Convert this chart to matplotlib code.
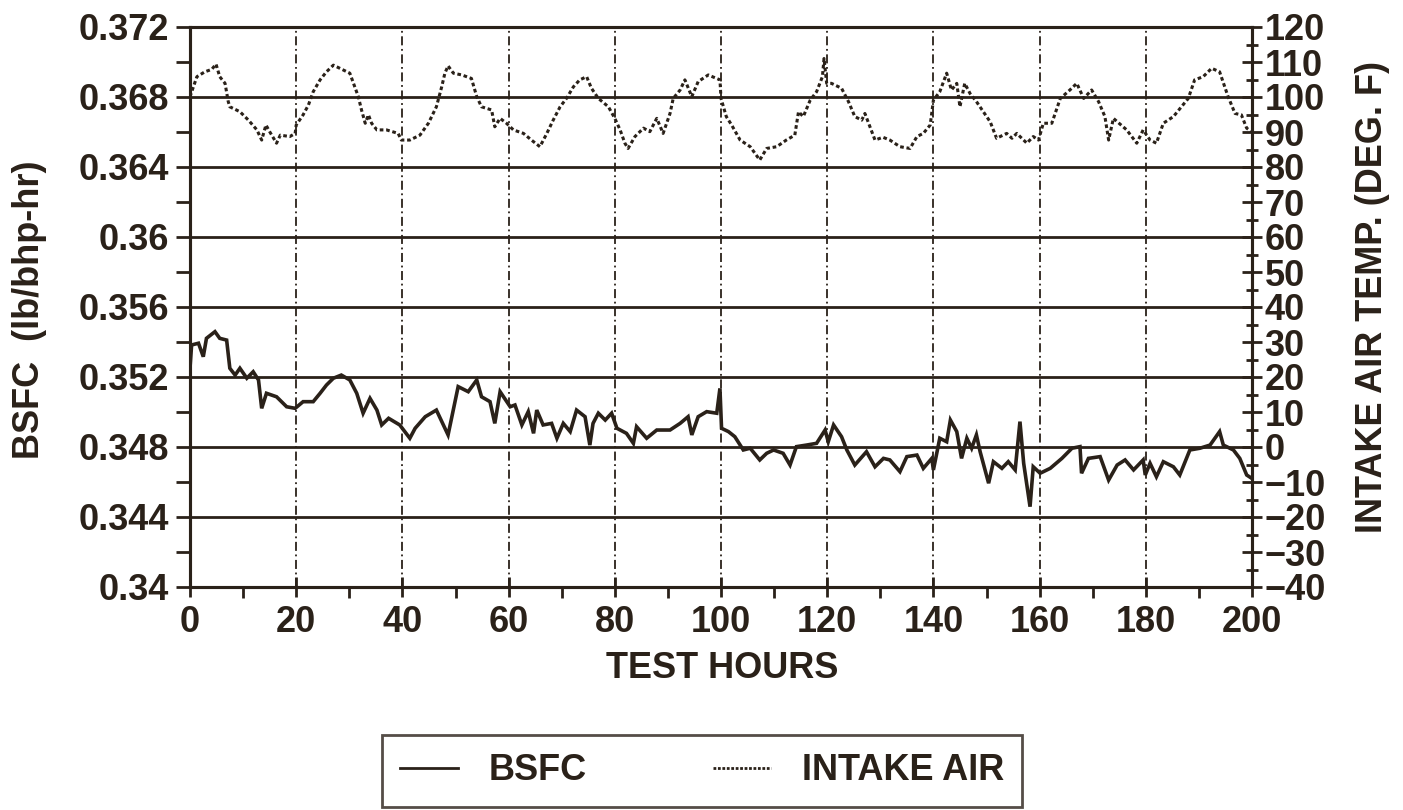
import numpy as np
import matplotlib
matplotlib.use("Agg")
import matplotlib.pyplot as plt
from matplotlib.ticker import MultipleLocator, FixedFormatter, FixedLocator

plt.rcParams['font.family'] = ['Liberation Sans', 'DejaVu Sans']
plt.rcParams['font.weight'] = 'bold'

ink = '#2a2119'

# BSFC (lb/bhp-hr) vs test hours
bsfc_h = [0, 0.3, 1.6, 2.5, 3.1, 4.7, 5.6, 6.9, 7.5, 8.5, 9.4, 10.7, 11.9, 12.9, 13.5, 14.4,
          16.3, 18.2, 19.8, 21.3, 23.2, 24.5, 25.7, 27, 28.5, 30.1, 31.4, 32.6, 33.9, 35.2,
          36.1, 37.4, 39.5, 41.4, 42.4, 44.3, 46.4, 48.6, 50.5, 52.4, 54, 54.9, 56.5, 57.4,
          58.4, 60.3, 61.2, 62.5, 63.7, 64.7, 65.3, 66.5, 68.1, 69.1, 70.3, 71.6, 72.8, 74.4,
          75.3, 75.9, 76.9, 78.2, 79.4, 80.4, 82.2, 83.5, 84.1, 86, 87.9, 90.4, 92.3, 93.8,
          94.5, 95.7, 97.3, 99.2, 99.8, 100.1, 101.4, 102.6, 104.2, 105.5, 107.3, 108.6,
          109.9, 111.7, 113, 114.2, 116.1, 118, 119.6, 120.2, 121.2, 122.7, 123.7, 125.2,
          127.4, 129, 130.6, 131.8, 133.7, 135, 136.9, 138.1, 139.7, 140, 141.2, 142.5,
          143.2, 144.4, 145.3, 146.3, 147.2, 148.1, 148.8, 150.4, 151.3, 152.9, 154.1,
          155.4, 156.3, 157, 158.2, 158.8, 160.1, 162, 164.2, 166.1, 167.6, 167.9, 169.2,
          171.4, 173, 174.6, 176.1, 177.7, 179.5, 179.9, 180.8, 182, 183.3, 185.2, 186.4,
          188.3, 190.2, 192.1, 193.9, 194.6, 196.5, 197.7, 199, 200]
bsfc = [0.3525, 0.35383, 0.35393, 0.35316, 0.35421, 0.35459, 0.35421, 0.35411, 0.3525,
        0.35211, 0.3525, 0.35193, 0.3523, 0.35183, 0.35021, 0.35107, 0.35087, 0.3503,
        0.35021, 0.35059, 0.35059, 0.35107, 0.35154, 0.35193, 0.35211, 0.35183, 0.35107,
        0.34993, 0.35078, 0.35011, 0.34926, 0.34964, 0.34926, 0.3485, 0.34907, 0.34973,
        0.35011, 0.34869, 0.35145, 0.35116, 0.35183, 0.35087, 0.35059, 0.34935, 0.35116,
        0.3503, 0.3504, 0.34926, 0.35002, 0.34878, 0.35011, 0.34926, 0.34935, 0.3485,
        0.34935, 0.34888, 0.35011, 0.34973, 0.34811, 0.34935, 0.34993, 0.34954, 0.34993,
        0.34907, 0.34878, 0.34821, 0.34916, 0.3485, 0.34897, 0.34897, 0.34935, 0.34973,
        0.34869, 0.34973, 0.35002, 0.34993, 0.35135, 0.34907, 0.34888, 0.34859, 0.34783,
        0.34793, 0.34726, 0.34764, 0.34783, 0.34764, 0.34697, 0.34802, 0.34811, 0.34821,
        0.34897, 0.3483, 0.34926, 0.34859, 0.34783, 0.34697, 0.34773, 0.34687, 0.34735,
        0.34726, 0.34659, 0.34745, 0.34754, 0.34678, 0.34735, 0.34669, 0.3485, 0.3483,
        0.34954, 0.34888, 0.34735, 0.3485, 0.34793, 0.34869, 0.34773, 0.34593, 0.34716,
        0.34678, 0.34716, 0.34669, 0.34945, 0.34707, 0.34459, 0.34687, 0.3465, 0.34678,
        0.34735, 0.34793, 0.34802, 0.3465, 0.34735, 0.34745, 0.34611, 0.34697, 0.34726,
        0.34669, 0.34726, 0.3464, 0.34707, 0.3463, 0.34716, 0.34687, 0.3464, 0.34783,
        0.34793, 0.34811, 0.34888, 0.34811, 0.34783, 0.34735, 0.3464, 0.3462]

# intake air temperature (deg F) vs test hours
air_h = [0, 1.3, 2.8, 4.1, 4.9, 5.6, 6.6, 7.2, 7.5, 9.4, 11, 12.6, 13.5, 14.3, 15, 16.3, 17,
         18.8, 19.8, 20, 21.3, 22.3, 23.2, 24.5, 25.7, 27, 28.2, 30.1, 30.8, 31.7, 32.3, 33,
         33.6, 34.2, 35.2, 37, 39.2, 39.8, 41.4, 43.3, 44.9, 46.4, 47.4, 48, 48.6, 49.6, 51.2,
         53, 54, 54.9, 56.8, 57.4, 58.4, 59.6, 60.9, 62.8, 64.3, 65.9, 67.2, 68.4, 69.7,
         70.9, 72.2, 73.4, 74.7, 75.6, 76.9, 78.8, 80, 81, 81.9, 82.5, 83.8, 85.4, 86.6,
         87.9, 89.1, 90.4, 91, 92.3, 93.2, 94.5, 95.7, 97.6, 99.8, 100, 101, 102, 103.6,
         105.5, 107.3, 108.6, 110.5, 112.3, 113.9, 114.6, 115.5, 116.8, 118, 119.1, 119.4,
         119.9, 120.8, 122.7, 124, 125.2, 126.5, 127.1, 129, 130.5, 131.8, 133.7, 135.6,
         136.9, 138.1, 139.4, 140, 141.2, 142.5, 143.4, 144.4, 145, 145.9, 146.9, 148.1,
         149.4, 150.7, 151.9, 153.8, 154.8, 155.7, 157.6, 158.8, 159.8, 160.7, 162.3, 163.9,
         165.7, 167, 168.3, 169.8, 171.1, 172.3, 173, 173.9, 176.4, 178.3, 179.5, 180.8,
         182, 183.3, 185.2, 186.7, 188, 189.2, 190.8, 192.4, 193.9, 195.5, 196.8, 198, 199,
         200]
air_t = [100.1, 105.8, 107.2, 107.9, 109.4, 105.8, 103.9, 98.7, 97.2, 95.8, 93.4, 90.6, 87.7,
         92, 90.1, 86.8, 89.1, 88.7, 89.6, 92, 94.9, 97.7, 101.5, 104.9, 107.2, 109.1, 108.2,
         106.8, 103.9, 100.1, 96.3, 92.5, 94.9, 92.5, 90.6, 90.6, 89.6, 87.7, 87.7, 89.1,
         92.5, 97.2, 102.9, 106.8, 108.9, 106.8, 106.3, 105.3, 100.1, 97.2, 96.3, 91.5,
         93.9, 92.5, 90.6, 89.6, 87.7, 85.8, 89.6, 93.4, 97.2, 99.6, 102.9, 104.9, 105.8,
         102.5, 99.6, 97.2, 93.9, 90.6, 86.8, 85.3, 88.7, 91.1, 90.1, 93.9, 89.6, 95.3,
         99.6, 102, 104.9, 100.1, 104.4, 106.3, 104.9, 99.6, 94.4, 92, 87.7, 85.8, 82, 85.3,
         85.8, 87.7, 89.1, 95.8, 94.4, 99.1, 101.5, 105.8, 111, 103.9, 103.9, 102.5, 98.7,
         94.4, 93.4, 95.3, 87.7, 88.5, 87.7, 85.8, 85.3, 88.7, 89.6, 92, 99.1, 101.5, 106.8,
         102, 103.9, 97.2, 103.9, 101, 98.7, 95.8, 92.9, 88.2, 89.6, 88.2, 89.6, 86.8, 88.7,
         87.7, 92.5, 92.5, 99.6, 102, 103.9, 99.6, 102, 98.7, 94.4, 87.7, 93.9, 90.6, 86.8,
         90.6, 87.7, 86.8, 92.5, 94.4, 97.2, 99.6, 104.9, 105.8, 108.2, 107.2, 100.1, 95.3,
         94.9, 91.1, 90]

left_ticks = [0.34, 0.344, 0.348, 0.352, 0.356, 0.36, 0.364, 0.368, 0.372]
left_labels = ['0.34', '0.344', '0.348', '0.352', '0.356', '0.36', '0.364', '0.368', '0.372']

fig = plt.figure(figsize=(14.03, 8.10), dpi=100)
ax = fig.add_axes([190/1403, 1 - 587/810, (1252-190)/1403, (587-27)/810])
ax2 = ax.twinx()

fs = 26

ax.plot(bsfc_h, bsfc, color=ink, lw=2.6, solid_joinstyle='miter')
ax2.plot(air_h, air_t, color=ink, lw=2.2, linestyle=(0, (1.2, 0.9)))

ax.set_xlim(0, 200)
ax.set_ylim(0.34, 0.372)
ax2.set_ylim(-40, 120)

ax.yaxis.set_major_locator(FixedLocator(left_ticks))
ax.yaxis.set_major_formatter(FixedFormatter(left_labels))
ax.yaxis.set_minor_locator(MultipleLocator(0.002))
ax.xaxis.set_major_locator(MultipleLocator(20))
ax.xaxis.set_minor_locator(MultipleLocator(10))
ax2.yaxis.set_major_locator(MultipleLocator(10))
ax2.yaxis.set_minor_locator(MultipleLocator(5))

ax.grid(axis='y', color=ink, lw=2.0, linestyle='-')
ax.grid(axis='x', color=ink, lw=1.3, linestyle=(0, (5, 2, 1, 2)))

ax.tick_params(axis='y', which='major', direction='out', length=10, width=2, color=ink,
               labelsize=fs, labelcolor=ink, pad=5)
ax.tick_params(axis='y', which='minor', direction='out', length=10, width=2, color=ink)
ax.tick_params(axis='x', which='major', direction='inout', length=14, width=2, color=ink,
               labelsize=fs, labelcolor=ink, pad=6)
ax.tick_params(axis='x', which='minor', direction='out', length=8, width=2, color=ink)
ax2.tick_params(axis='y', which='major', direction='inout', length=14, width=2, color=ink,
                labelsize=fs, labelcolor=ink, pad=2)
ax2.tick_params(axis='y', which='minor', direction='inout', length=8, width=2, color=ink)

for a in (ax, ax2):
    for s in a.spines.values():
        s.set_color(ink)
        s.set_linewidth(2.2)

fig.text(30/1403, 1 - 310/810, 'BSFC  (lb/bhp-hr)', rotation=90, ha='center', va='center',
         fontsize=fs, color=ink)
fig.text(1372/1403, 1 - 297/810, 'INTAKE AIR TEMP. (DEG. F)', rotation=90, ha='center',
         va='center', fontsize=fs, color=ink)
fig.text(722/1403, 1 - 668/810, 'TEST HOURS', ha='center', va='center', fontsize=fs, color=ink)

h1, = ax.plot([], [], color=ink, lw=2.0)
h2, = ax.plot([], [], color=ink, lw=2.0, linestyle=(0, (1.0, 0.6)))
leg = fig.legend([h1, h2], ['BSFC', 'INTAKE AIR'], loc='center',
                 bbox_to_anchor=(702/1403, 1 - 771/810), ncol=2, fontsize=fs,
                 frameon=True, fancybox=False, edgecolor=ink, handlelength=1.6,
                 handletextpad=0.85, columnspacing=3.5, borderpad=0.5, borderaxespad=0)
leg.get_frame().set_linewidth(2.0)
for t in leg.get_texts():
    t.set_color(ink)

fig.savefig('out.png', dpi=100, facecolor='white')
